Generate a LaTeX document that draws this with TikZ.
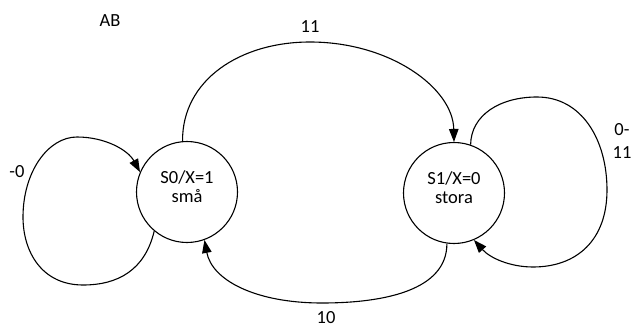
\documentclass[tikz,border=0pt]{standalone}
\usepackage{fontspec}
\setmainfont{Carlito}
\usetikzlibrary{arrows.meta}
\begin{document}
\begin{tikzpicture}[x=1pt,y=-1pt,
  state/.style={draw,circle,line width=1.1pt,minimum size=101pt,inner sep=0pt},
  statetext/.style={font=\fontsize{18.5}{19}\selectfont,align=center,inner sep=0pt,yshift=5pt},
  lbl/.style={font=\fontsize{18.5}{23}\selectfont,align=center,inner sep=0pt},
  edge/.style={line width=1.1pt,-{Triangle[length=13pt,width=9.5pt]}}]
\useasboundingbox (0,0) rectangle (635,329);
% states
\node[state] (s0) at (187,192) {};
\node[state] (s1) at (454,193) {};
\node[statetext] (s0t) at (s0.center) {S0/X=1\\små};
\node[statetext] (s1t) at (s1.center) {S1/X=0\\stora};
% transitions between the states
\draw[edge] (s0.95) .. controls (182,80) and (240,42) .. (310,42)
  .. controls (390,42) and (453,88) .. (s1.north);
\draw[edge] (s1.262) .. controls (447,290) and (385,303) .. (322,303)
  .. controls (255,303) and (212,280) .. (s0.290);
% self loops
\draw[edge] (s0.230) .. controls (145,270) and (118,285) .. (83,285)
  .. controls (42,285) and (23,252) .. (23,217)
  .. controls (23,172) and (48,137) .. (77,137)
  .. controls (105,137) and (128,150) .. (s0.157);
\draw[edge] (s1.71) .. controls (471,115) and (500,97) .. (537,97)
  .. controls (582,97) and (607,140) .. (607,190)
  .. controls (607,240) and (577,267) .. (533,267)
  .. controls (510,267) and (490,258) .. (s1.293);
% labels
\node[lbl] (ab) at (110,21) {AB};
\node[lbl] (l11) at (310,27) {11};
\node[lbl] (l10) at (326,318) {10};
\node[lbl] (lm0) at (17,172) {-0};
\node[lbl] (l0x) at (622,141) {0-\\11};
\end{tikzpicture}
\end{document}
